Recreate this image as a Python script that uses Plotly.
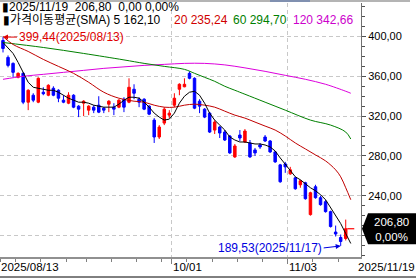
import pandas as pd
import plotly.graph_objects as go

# ---------------- data ----------------
all_days = pd.bdate_range("2025-08-13", "2025-11-19")
holidays = [pd.Timestamp("2025-09-01")]
dates = [d for d in all_days if d not in holidays]
idx = list(range(len(dates)))

opens = [396, 379, 373, 359, 363, 334, 341, 334, 344, 341,
         348, 346, 336, 333, 341, 330, 333, 326, 329, 331,
         328, 332, 329, 329, 337, 334, 347, 337, 337, 330,
         316, 299, 313, 321, 331, 347, 349.5, 363, 358, 335,
         327, 323, 306, 309, 304, 300, 279, 301, 294, 293,
         286, 291, 299, 295, 284, 271, 272, 262, 258, 251,
         253, 221, 249, 238, 234, 224, 203.5, 198, 197, 206.8]
highs = [399.44, 381, 374, 364, 364, 347, 343, 359, 349, 352,
         350, 347, 341, 344, 342, 331, 336, 331, 331, 340,
         329, 336, 333, 337, 339, 358, 352, 339, 338, 331,
         318, 311, 329, 326, 343, 353, 358, 365, 359, 337,
         328, 324, 316, 310, 306, 301, 292, 306, 307, 296,
         288, 293, 301, 296, 285, 272, 274, 269, 259, 256,
         254, 244, 251, 240, 236, 225, 210, 201, 216, 206.8]
lows = [384, 369, 359, 358, 332, 326, 334, 333, 341, 340,
        340, 334, 333, 332, 328, 319, 320, 321, 323, 323,
        323, 324, 321, 328, 324, 333, 337, 329, 326, 321,
        293, 297, 311, 318, 329, 341, 349, 357, 327, 323,
        318, 303, 302, 298, 295, 282, 278, 295, 293, 278,
        280, 287, 294, 283, 273, 253, 263, 261, 246, 248,
        236, 220, 237, 230, 223, 208, 199, 189.53, 195, 206.8]
closes = [388, 371, 364, 363, 334, 346, 336, 358, 342.5, 351,
          341, 338, 334, 341, 329, 327, 335, 330, 326, 324,
          326, 335, 327, 336, 329, 349, 343, 334, 327, 322,
          299, 309, 327, 323, 338, 352, 352, 358, 328, 330,
          319, 304, 314, 303, 296, 283, 290, 298, 305, 279,
          283, 289, 295, 284, 274, 254, 269, 266, 247, 255,
          237, 243, 238, 231, 224, 209, 201.5, 194, 206.8, 206.8]

ma5 = [394, 389, 383, 374, 364, 354, 349, 348, 347, 346,
       346, 344, 341, 338, 336, 334, 334, 333, 331, 330,
       329, 329, 329, 332, 336, 339, 339, 338, 334, 329,
       323, 319, 316, 317, 323, 333, 340, 344, 345, 341,
       333, 323, 316, 311, 306, 299, 296, 294, 294, 293,
       292, 292, 291, 289, 285, 278, 272, 265, 259, 256,
       252, 248, 245, 241, 236, 228, 220, 212, 202, 192]
ma20_idx = [0, 2, 5, 8, 11, 14, 17, 20, 23, 26, 28, 30, 32, 34, 36, 38, 40,
            42, 44, 46, 48, 50, 52, 54, 56, 58, 60, 62, 64, 66, 67, 68, 69]
ma20 = [400, 392, 385, 377, 370, 363, 354, 344, 338, 335, 334, 331, 329, 329,
        331, 332, 331, 329, 325, 321, 318, 314, 310, 306, 300, 293, 287, 281,
        275, 266, 259, 248, 236]
ma60_idx = [0, 8, 16, 24, 28, 32, 36, 38, 40, 42, 44, 46, 48, 52, 56, 61, 65, 68, 69]
ma60 = [394, 389, 383, 376.5, 373, 370, 367, 363, 359, 355, 350, 346, 342,
        334, 326, 316, 311, 304, 297]
ma120_idx = [0, 4, 8, 12, 16, 20, 24, 28, 32, 36, 40, 44, 48, 52, 56, 60, 64, 68, 69]
ma120 = [357, 360, 362, 364, 366, 368, 369.5, 371, 372, 373, 373, 371.5,
         368.5, 365, 361, 357, 352, 345, 343]

y_ticks = [200, 240, 280, 320, 360, 400]
y_ticktext = ["", "240,00", "280,00", "320,00", "360,00", "400,00"]
label_dates = ["2025-10-01", "2025-11-03"]
label_texts = ["10/01", "11/03"]
first_label = "2025/08/13"
last_label = "2025/11/19"
high_text = "399,44(2025/08/13)"
low_text = "189,53(2025/11/17)"
header_line1 = "▮2025/11/19\u00a0\u00a0206,80\u00a0\u00a00,00\u00a00,00%"
legend_parts = [("▮가격이동평균(SMA)\u00a05\u00a0162,10", "#000000", 1),
                ("20\u00a0235,24", "#d00000", 172),
                ("60\u00a0294,70", "#008000", 231),
                ("120\u00a0342,66", "#cc00cc", 291)]
price_tag = "206,80<br>0,00%"

RED = "#ff0000"
BLUE = "#0000ff"
FONT = "Liberation Sans, Noto Sans CJK KR, sans-serif"

pos = {d.strftime("%Y-%m-%d"): i for i, d in enumerate(dates)}
grid_x = [pos[d] - 0.5 for d in label_dates]
week_starts = [i - 0.5 for i, d in enumerate(dates)
               if i == 0 or (d - dates[i - 1]).days > 1]
hi_i = highs.index(max(highs))
lo_i = lows.index(min(lows))

# ---------------- figure ----------------
W, H = 416, 279
ML, MR, MT, MB = 0, 55, 3, 22
PW, PH = W - ML - MR, H - MT - MB


def px_x(p):
    return (p - ML) / PW


def px_y(p):
    return 1 - (p - MT) / PH


fig = go.Figure()
n = len(dates) - 1
fig.add_trace(go.Candlestick(
    x=idx[:n], open=opens[:n], high=highs[:n], low=lows[:n], close=closes[:n],
    increasing=dict(line=dict(color=RED, width=1), fillcolor=RED),
    decreasing=dict(line=dict(color=BLUE, width=1), fillcolor=BLUE),
    whiskerwidth=0, hoverinfo="skip"))
fig.add_trace(go.Scatter(
    x=[idx[-1]], y=[closes[-1]], mode="markers", cliponaxis=False,
    marker=dict(symbol="line-ew", size=5, line=dict(color=RED, width=1.2)),
    hoverinfo="skip"))

fig.add_trace(go.Scatter(x=ma120_idx, y=ma120, mode="lines",
                         line=dict(color="#dd00dd", width=1, shape="spline"),
                         hoverinfo="skip"))
fig.add_trace(go.Scatter(x=ma60_idx, y=ma60, mode="lines",
                         line=dict(color="#008000", width=1, shape="spline"),
                         hoverinfo="skip"))
fig.add_trace(go.Scatter(x=ma20_idx, y=ma20, mode="lines",
                         line=dict(color="#c00000", width=1, shape="spline"),
                         hoverinfo="skip"))
fig.add_trace(go.Scatter(x=idx, y=ma5, mode="lines",
                         line=dict(color="#000000", width=1),
                         hoverinfo="skip"))

x0 = -0.595
x1 = 71.03
fig.update_layout(
    width=W, height=H, margin=dict(l=ML, r=MR, t=MT, b=MB),
    paper_bgcolor="white", plot_bgcolor="white", showlegend=False,
    separators=",.",
    font=dict(family=FONT, size=11, color="#000000"),
    xaxis=dict(type="linear", range=[x0, x1], rangeslider=dict(visible=False),
               tickmode="array", tickvals=grid_x, showticklabels=False,
               ticks="outside", ticklen=5, tickcolor="#808080",
               showgrid=True, gridcolor="#c8c8c8", griddash="4px,3px",
               showline=True, linecolor="#909090", linewidth=2, zeroline=False,
               minor=dict(tickmode="array", tickvals=week_starts, ticks="outside",
                          ticklen=3, tickcolor="#808080", showgrid=False),
               fixedrange=True),
    yaxis=dict(side="right", range=[178.4, 433.7], tickmode="array",
               tickvals=y_ticks, ticktext=y_ticktext, ticks="outside", ticklen=4,
               tickcolor="#505050", showline=True, linecolor="#707070", linewidth=1,
               showgrid=True, gridcolor="#c8c8c8", griddash="4px,3px",
               zeroline=False, tickfont=dict(size=11, color="#000000"),
               minor=dict(dtick=10, tick0=0, ticks="outside", ticklen=3,
                          tickcolor="#505050", showgrid=False),
               fixedrange=True),
)

ann = []
# header lines
ann.append(dict(xref="paper", yref="paper", x=px_x(0), y=px_y(7), text=header_line1,
                showarrow=False, xanchor="left", yanchor="middle",
                font=dict(size=12, color="#000000")))
for txt, col, xp in legend_parts:
    ann.append(dict(xref="paper", yref="paper", x=px_x(xp), y=px_y(20), text=txt,
                    showarrow=False, xanchor="left", yanchor="middle",
                    font=dict(size=12, color=col)))
# high / low marks
ann.append(dict(x=hi_i, y=highs[hi_i], xref="x", yref="y", text=high_text,
                showarrow=True, ax=14, ay=0, xanchor="left", yanchor="middle",
                arrowhead=2, arrowsize=1, arrowwidth=1, arrowcolor="#e00000",
                font=dict(size=12, color="#e00000")))
ann.append(dict(x=lo_i, y=lows[lo_i], xref="x", yref="y", text=low_text,
                showarrow=True, ax=-17, ay=2, xanchor="right", yanchor="middle",
                arrowhead=2, arrowsize=1, arrowwidth=1, arrowcolor="#0000e0",
                font=dict(size=12, color="#0000e0")))
# x labels
ann.append(dict(xref="paper", yref="paper", x=px_x(-1), y=px_y(267), text=first_label,
                showarrow=False, xanchor="left", yanchor="middle",
                font=dict(size=11.5, color="#000000")))
for gx, t in zip(grid_x, label_texts):
    ann.append(dict(xref="x", yref="paper", x=gx, y=px_y(267), text=t, xshift=-1,
                    showarrow=False, xanchor="left", yanchor="middle",
                    font=dict(size=11.5, color="#000000")))
ann.append(dict(xref="paper", yref="paper", x=px_x(356), y=px_y(267), text=last_label,
                showarrow=False, xanchor="left", yanchor="middle",
                font=dict(size=11.5, color="#000000")))
# price tag text
ann.append(dict(xref="paper", yref="y", x=1, y=closes[-1], text=price_tag,
                xshift=30, yshift=-1, showarrow=False, xanchor="center", yanchor="middle",
                font=dict(size=11.5, color="#ffffff")))
fig.update_layout(annotations=ann)

shapes = [
    # price tag body
    dict(type="path", xref="paper", yref="y", xsizemode="pixel", ysizemode="pixel",
         xanchor=1, yanchor=closes[-1],
         path="M 1 0 L 7 15.5 L 60 15.5 L 60 -15.5 L 7 -15.5 Z",
         fillcolor="#000000", line=dict(width=0), layer="above"),
    # top scroll strip
    dict(type="rect", xref="paper", yref="paper", x0=px_x(0), x1=px_x(410),
         y0=px_y(0), y1=px_y(2), fillcolor="#b4b4b4", line=dict(width=0)),
    dict(type="rect", xref="paper", yref="paper", x0=px_x(270), x1=px_x(310),
         y0=px_y(0), y1=px_y(2), fillcolor="#8090b0", line=dict(width=0)),
    # bottom frame line
    dict(type="line", xref="paper", yref="paper", x0=px_x(0), x1=px_x(W),
         y0=px_y(277), y1=px_y(277), line=dict(color="#000000", width=1)),
]
fig.update_layout(shapes=shapes)

fig.write_html("out.html")
